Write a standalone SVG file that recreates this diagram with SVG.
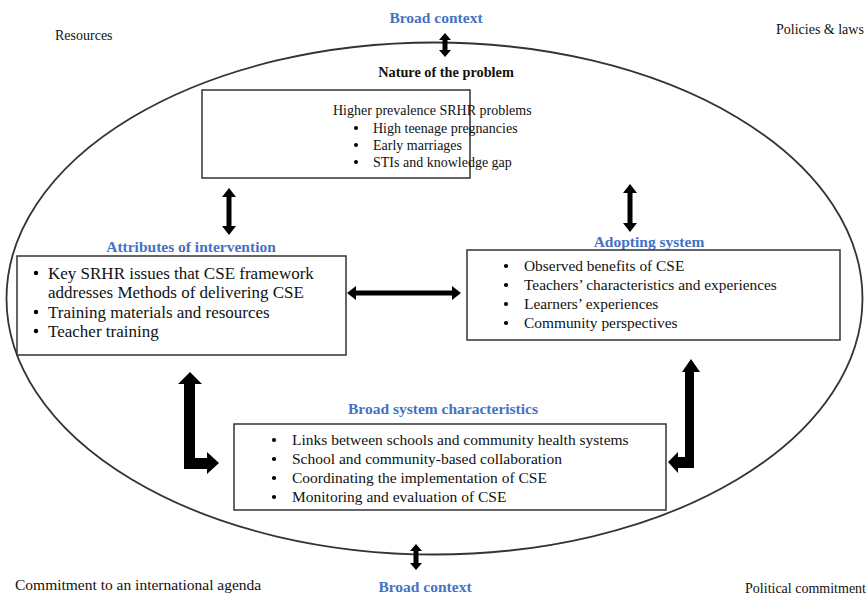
<svg xmlns="http://www.w3.org/2000/svg" width="868" height="595" viewBox="0 0 868 595">
<style>
text{font-family:"Liberation Serif","Times New Roman",serif;font-size:14px;fill:#111}
.h{font-weight:bold;fill:#4472C4;font-size:15.5px}
.b{font-weight:bold;font-size:14.3px}
.l{font-size:17px}
.r{font-size:15.4px}
.m{font-size:15.5px}
.box{fill:#fff;stroke:#333;stroke-width:1.5}
.arr{fill:#000}
.dot{fill:#000}
</style>
<rect width="868" height="595" fill="#fff"/>
<ellipse cx="434.5" cy="298.5" rx="428" ry="256" fill="none" stroke="#333" stroke-width="1.8"/>

<g id="outer-labels">
<text x="55" y="40">Resources</text>
<text x="776" y="34">Policies &amp; laws</text>
<text x="15" y="590" style="font-size:15.5px">Commitment to an international agenda</text>
<text x="866" y="593" text-anchor="end">Political commitment</text>
<text class="h" x="436" y="23" text-anchor="middle">Broad context</text>
<text class="h" x="425" y="592" text-anchor="middle">Broad context</text>
</g>

<g id="nature-of-problem">
<text class="b" x="446" y="77" text-anchor="middle">Nature of the problem</text>
<rect class="box" x="202" y="90" width="268" height="88"/>
<text x="333" y="115">Higher prevalence SRHR problems</text>
<circle class="dot" cx="356" cy="128" r="2"/><text x="373" y="133">High teenage pregnancies</text>
<circle class="dot" cx="356" cy="145" r="2"/><text x="373" y="150">Early marriages</text>
<circle class="dot" cx="356" cy="162" r="2"/><text x="373" y="167">STIs and knowledge gap</text>
</g>

<g id="attributes-of-intervention">
<text class="h" x="191" y="252" text-anchor="middle">Attributes of intervention</text>
<rect class="box" x="17" y="256" width="329" height="99"/>
<circle class="dot" cx="36" cy="273" r="2.2"/><text class="l" x="48" y="279">Key SRHR issues that CSE framework</text>
<text class="l" x="48" y="298">addresses Methods of delivering CSE</text>
<circle class="dot" cx="36" cy="312" r="2.2"/><text class="l" x="48" y="318">Training materials and resources</text>
<circle class="dot" cx="36" cy="331" r="2.2"/><text class="l" x="48" y="337">Teacher training</text>
</g>

<g id="adopting-system">
<text class="h" x="649" y="247" text-anchor="middle">Adopting system</text>
<rect class="box" x="467" y="250" width="373" height="90"/>
<circle class="dot" cx="506" cy="266" r="2.1"/><text class="r" x="524" y="271">Observed benefits of CSE</text>
<circle class="dot" cx="506" cy="285" r="2.1"/><text class="r" x="524" y="290">Teachers’ characteristics and experiences</text>
<circle class="dot" cx="506" cy="304" r="2.1"/><text class="r" x="524" y="309">Learners’ experiences</text>
<circle class="dot" cx="506" cy="323" r="2.1"/><text class="r" x="524" y="328">Community perspectives</text>
</g>

<g id="broad-system-characteristics">
<text class="h" x="443" y="414" text-anchor="middle">Broad system characteristics</text>
<rect class="box" x="234" y="424" width="432" height="86"/>
<circle class="dot" cx="274" cy="440" r="2.1"/><text class="m" x="292" y="445">Links between schools and community health systems</text>
<circle class="dot" cx="274" cy="459" r="2.1"/><text class="m" x="292" y="464">School and community-based collaboration</text>
<circle class="dot" cx="274" cy="478" r="2.1"/><text class="m" x="292" y="483">Coordinating the implementation of CSE</text>
<circle class="dot" cx="274" cy="497" r="2.1"/><text class="m" x="292" y="502">Monitoring and evaluation of CSE</text>
</g>

<g id="connectors">
<path class="arr" d="M445,33 L451,40 L447.5,40 L447.5,50 L451,50 L445,57 L439,50 L442.5,50 L442.5,40 L439,40 Z"/>
<path class="arr" d="M416,544 L422,551 L418.5,551 L418.5,563 L422,563 L416,570 L410,563 L413.5,563 L413.5,551 L410,551 Z"/>
<path class="arr" d="M229,188 L236,197 L231.5,197 L231.5,226 L236,226 L229,235 L222,226 L226.5,226 L226.5,197 L222,197 Z"/>
<path class="arr" d="M630,184 L637,193 L632.5,193 L632.5,223 L637,223 L630,232 L623,223 L627.5,223 L627.5,193 L623,193 Z"/>
<path class="arr" d="M347,293 L356,286 L356,290.5 L452,290.5 L452,286 L461,293 L452,300 L452,295.5 L356,295.5 L356,300 Z"/>
<path class="arr" d="M190,372 L202,384 L195,384 L195,458 L207,458 L207,452 L219,463 L207,474 L207,469 L184,469 L184,384 L178,384 Z"/>
<path class="arr" d="M691,359 L700,372 L694,372 L694,468 L678,468 L678,473 L668,462 L678,452 L678,457 L685,457 L685,372 L682,372 Z"/>
</g>
</svg>
